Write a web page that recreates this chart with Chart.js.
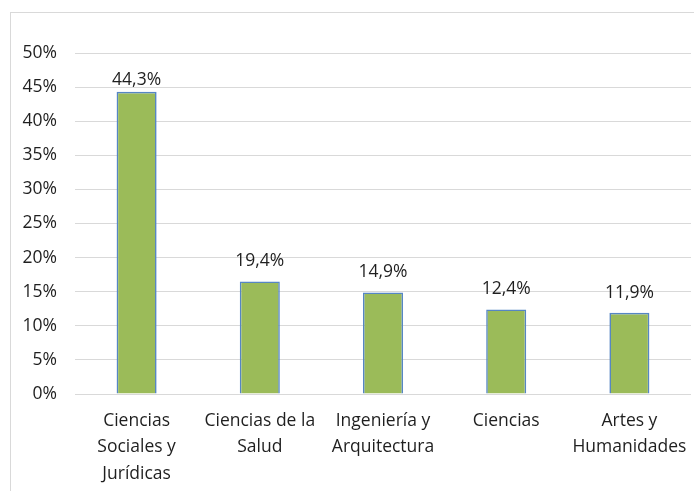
<!DOCTYPE html>
<html>
<head>
<meta charset="utf-8">
<script src="https://cdn.jsdelivr.net/npm/chart.js@4"></script>
<style>
    html, body { margin: 0; padding: 0; background: #fff; }
    body { width: 694px; height: 491px; position: relative; overflow: hidden; }
    .frame {
        position: absolute; left: 10px; top: 12px;
        width: 720px; height: 520px;
        border: 1px solid #d9d9d9;
    }
    .chart-box { position: absolute; left: 0; top: 0; width: 694px; height: 491px; }
</style>
</head>
<body>
<div class="frame"></div>
<div class="chart-box"><canvas id="ramaChart"></canvas></div>
<script>
// Datos
const ramas = [
    ['Ciencias', 'Sociales y', 'Jurídicas'],
    ['Ciencias de la', 'Salud'],
    ['Ingeniería y', 'Arquitectura'],
    ['Ciencias'],
    ['Artes y', 'Humanidades']
];
const alturas = [44.3, 16.5, 14.9, 12.4, 11.9];
const etiquetas = ['44,3%', '19,4%', '14,9%', '12,4%', '11,9%'];
const ticksY = [0, 5, 10, 15, 20, 25, 30, 35, 40, 45, 50];

const fuente = { family: 'Open Sans', size: 17.5 };
const colorTexto = '#1f1f1f';

// etiquetas encima de cada barra
const etiquetasBarras = {
    id: 'etiquetasBarras',
    afterDatasetsDraw(chart) {
        const ctx = chart.ctx;
        const meta = chart.getDatasetMeta(0);
        ctx.save();
        ctx.font = fuente.size + 'px "' + fuente.family + '"';
        ctx.fillStyle = colorTexto;
        ctx.textAlign = 'center';
        ctx.textBaseline = 'middle';
        meta.data.forEach((bar, i) => {
            const y = Math.max(bar.y - 20, chart.chartArea.top + 27);
            ctx.fillText(etiquetas[i], bar.x, y);
        });
        ctx.restore();
    }
};

new Chart(document.getElementById('ramaChart'), {
    type: 'bar',
    data: {
        labels: ramas,
        datasets: [{
            data: alturas,
            backgroundColor: '#9bbb59',
            borderColor: '#5686c4',
            borderWidth: 1.6,
            barPercentage: 0.325,
            categoryPercentage: 1
        }]
    },
    options: {
        responsive: true,
        maintainAspectRatio: false,
        animation: false,
        layout: { padding: { top: 53, right: 3, left: 0, bottom: 0 } },
        plugins: {
            legend: { display: false },
            tooltip: { enabled: false }
        },
        scales: {
            y: {
                min: 0,
                max: 50,
                afterFit: (s) => { s.width = 75; },
                afterBuildTicks: (s) => { s.ticks = ticksY.map(v => ({ value: v })); },
                ticks: {
                    padding: 18,
                    color: colorTexto,
                    font: fuente,
                    callback: (v) => v + '%'
                },
                grid: { color: '#d9d9d9', lineWidth: 1, drawTicks: false },
                border: { display: false }
            },
            x: {
                afterFit: (s) => {
                    s.height = 97;
                    s.paddingLeft = 0;
                    s.paddingRight = 0;
                },
                ticks: {
                    padding: 14,
                    color: colorTexto,
                    font: { family: fuente.family, size: fuente.size, lineHeight: 1.5 },
                    maxRotation: 0,
                    autoSkip: false
                },
                grid: { display: false, drawTicks: false },
                border: { display: false }
            }
        }
    },
    plugins: [etiquetasBarras]
});
</script>
</body>
</html>
